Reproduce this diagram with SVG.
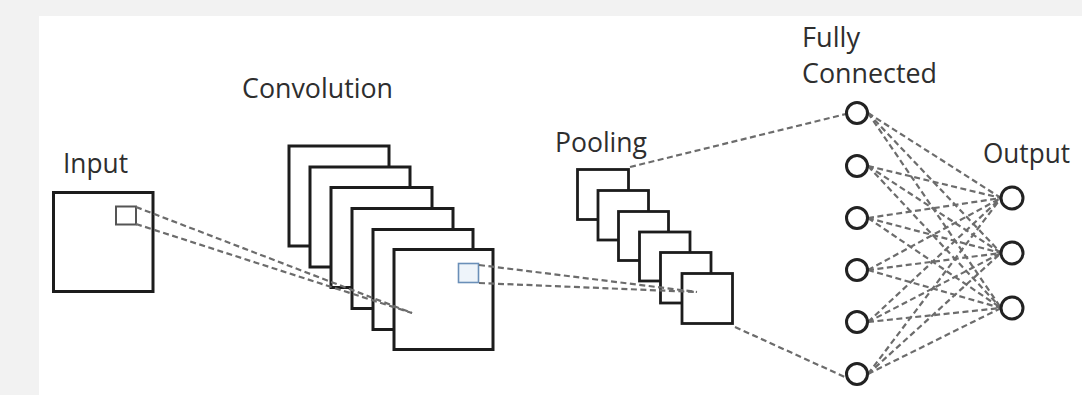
<svg xmlns="http://www.w3.org/2000/svg" width="1082" height="395" viewBox="0 0 1082 395">
<style>
.lbl{font-family:"Open Sans","Liberation Sans",sans-serif;font-size:27px;fill:#2e2e2e}
.box{fill:#fff;stroke:#1c1c1c;stroke-width:3}
.pbox{fill:#fff;stroke:#1c1c1c;stroke-width:2.8}
.nd{fill:#fff;stroke:#222;stroke-width:3}
.dash{fill:none;stroke:#6c6c6c;stroke-width:2.2;stroke-dasharray:6 3.5}
</style>
<rect x="0" y="0" width="1082" height="395" fill="#f2f2f2"/>
<rect x="39" y="16" width="1043" height="379" fill="#fff"/>

<g id="input">
<text class="lbl" x="63" y="173" textLength="65" lengthAdjust="spacingAndGlyphs">Input</text>
<rect class="box" x="53.5" y="192.5" width="99.5" height="99"/>
<rect x="116" y="206.5" width="20" height="18" fill="#fff" stroke="#555" stroke-width="2"/>
</g>

<g id="convolution">
<text class="lbl" x="242" y="98" textLength="151" lengthAdjust="spacingAndGlyphs">Convolution</text>
<rect class="box" x="289" y="146" width="100" height="100"/>
<rect class="box" x="310" y="167" width="100" height="100"/>
<rect class="box" x="331" y="187.5" width="101" height="100"/>
<rect class="box" x="352" y="208.5" width="101" height="100"/>
<rect class="box" x="373" y="229.5" width="100" height="100"/>
<rect class="box" x="394" y="249.5" width="99" height="100"/>
<rect x="458.5" y="263.5" width="20" height="19" fill="#eef4fa" stroke="#6a8fb8" stroke-width="1.6"/>
</g>

<g id="pooling">
<text class="lbl" x="555" y="152" textLength="92" lengthAdjust="spacingAndGlyphs">Pooling</text>
<rect class="pbox" x="577.5" y="169.5" width="51" height="50"/>
<rect class="pbox" x="598" y="190.5" width="50.5" height="49.5"/>
<rect class="pbox" x="618.5" y="211.5" width="50" height="49"/>
<rect class="pbox" x="639.5" y="232" width="50.5" height="49"/>
<rect class="pbox" x="660.5" y="252.5" width="50.5" height="50.5"/>
<rect class="pbox" x="682" y="273.5" width="50.5" height="50"/>
</g>

<g id="connectors">
<line class="dash" x1="136" y1="207" x2="412" y2="313"/>
<line class="dash" x1="136" y1="224" x2="412" y2="313"/>
<line class="dash" x1="479" y1="265" x2="697" y2="292"/>
<line class="dash" x1="479" y1="283" x2="697" y2="292"/>
<line class="dash" x1="630" y1="167" x2="846" y2="114"/>
<line class="dash" x1="735" y1="327" x2="847" y2="378"/>
<g id="fc-to-output">
<line class="dash" x1="868" y1="113" x2="1001" y2="198"/>
<line class="dash" x1="868" y1="113" x2="1001" y2="253"/>
<line class="dash" x1="868" y1="113" x2="1001" y2="308"/>
<line class="dash" x1="868" y1="166" x2="1001" y2="198"/>
<line class="dash" x1="868" y1="166" x2="1001" y2="253"/>
<line class="dash" x1="868" y1="166" x2="1001" y2="308"/>
<line class="dash" x1="868" y1="218" x2="1001" y2="198"/>
<line class="dash" x1="868" y1="218" x2="1001" y2="253"/>
<line class="dash" x1="868" y1="218" x2="1001" y2="308"/>
<line class="dash" x1="868" y1="270" x2="1001" y2="198"/>
<line class="dash" x1="868" y1="270" x2="1001" y2="253"/>
<line class="dash" x1="868" y1="270" x2="1001" y2="308"/>
<line class="dash" x1="868" y1="322" x2="1001" y2="198"/>
<line class="dash" x1="868" y1="322" x2="1001" y2="253"/>
<line class="dash" x1="868" y1="322" x2="1001" y2="308"/>
<line class="dash" x1="868" y1="374" x2="1001" y2="198"/>
<line class="dash" x1="868" y1="374" x2="1001" y2="253"/>
<line class="dash" x1="868" y1="374" x2="1001" y2="308"/>
</g>
</g>

<g id="fully-connected">
<text class="lbl" x="802" y="47" textLength="58" lengthAdjust="spacingAndGlyphs">Fully</text>
<text class="lbl" x="802" y="83" textLength="135" lengthAdjust="spacingAndGlyphs">Connected</text>
<circle class="nd" cx="857" cy="113" r="10.5"/>
<circle class="nd" cx="857" cy="166" r="10.5"/>
<circle class="nd" cx="857" cy="218" r="10.5"/>
<circle class="nd" cx="857" cy="270" r="10.5"/>
<circle class="nd" cx="857" cy="322" r="10.5"/>
<circle class="nd" cx="857" cy="374" r="10.5"/>
</g>

<g id="output">
<text class="lbl" x="983" y="163" textLength="87" lengthAdjust="spacingAndGlyphs">Output</text>
<circle class="nd" cx="1012" cy="198" r="11"/>
<circle class="nd" cx="1012" cy="253" r="11"/>
<circle class="nd" cx="1012" cy="308" r="11"/>
</g>
</svg>
